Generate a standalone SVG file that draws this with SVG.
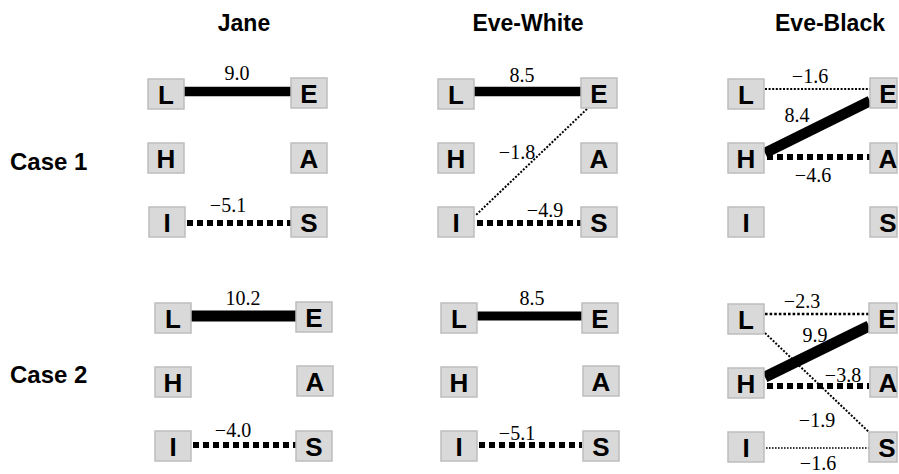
<svg xmlns="http://www.w3.org/2000/svg" width="899" height="474" viewBox="0 0 899 474">
<style>
.box{fill:#d9d9d9;stroke:#bdbdbd;stroke-width:1.5}
.lt{font-family:"Liberation Sans",Arial,sans-serif;font-weight:bold;font-size:26px;text-anchor:middle;fill:#000}
.ttl{font-family:"Liberation Sans",Arial,sans-serif;font-weight:bold;font-size:23px;text-anchor:middle;fill:#000}
.case{font-family:"Liberation Sans",Arial,sans-serif;font-weight:bold;font-size:24px;fill:#000}
.num{font-family:"Liberation Serif","Times New Roman",serif;font-size:20px;text-anchor:middle;fill:#000}
.solid{stroke:#000;fill:none}
.dash{stroke:#000;fill:none;stroke-width:6;stroke-dasharray:6 4}
.dot{stroke:#000;fill:none;stroke-width:2;stroke-dasharray:2 1.6}
.dot3{stroke:#000;fill:none;stroke-width:2.6;stroke-dasharray:2.6 2}
.dot1{stroke:#000;fill:none;stroke-width:1.6;stroke-dasharray:1.6 1.4}
</style>
<rect width="899" height="474" fill="#fff"/>
<g id="titles">
<text class="ttl" x="244" y="31">Jane</text>
<text class="ttl" x="528" y="31">Eve-White</text>
<text class="ttl" x="830" y="31">Eve-Black</text>
<text class="case" x="10" y="170">Case 1</text>
<text class="case" x="10" y="383">Case 2</text>
</g>
<g id="connectors">
<line class="solid" stroke-width="9.5" x1="184" y1="91.5" x2="291" y2="91.5"/>
<line class="dash" x1="187" y1="223" x2="291" y2="223"/>
<line class="solid" stroke-width="9.5" x1="474" y1="91.5" x2="581" y2="91.5"/>
<line class="dot" x1="587" y1="109" x2="476" y2="215"/>
<line class="dash" x1="477" y1="223" x2="581" y2="223"/>
<line class="dot" x1="765" y1="89" x2="870" y2="89"/>
<line class="solid" stroke-width="10.5" x1="765" y1="153" x2="870" y2="101"/>
<line class="dash" x1="767" y1="157" x2="870" y2="157"/>
<line class="solid" stroke-width="11" x1="191" y1="316" x2="296" y2="316"/>
<line class="dash" x1="193" y1="445" x2="296" y2="445"/>
<line class="solid" stroke-width="9" x1="477" y1="316" x2="582" y2="316"/>
<line class="dash" x1="479" y1="445" x2="582" y2="445"/>
<line class="dot3" x1="765" y1="314" x2="869" y2="314"/>
<line class="solid" stroke-width="11" x1="765" y1="377" x2="869" y2="326"/>
<line class="dash" x1="767" y1="386" x2="869" y2="386"/>
<line class="dot" x1="765" y1="333" x2="872" y2="435"/>
<line class="dot1" x1="766" y1="448" x2="869" y2="448"/>
</g>
<g id="labels">
<text class="num" x="237" y="80">9.0</text>
<text class="num" x="228" y="212">−5.1</text>
<text class="num" x="522" y="82">8.5</text>
<text class="num" x="517" y="159">−1.8</text>
<text class="num" x="545" y="217">−4.9</text>
<text class="num" x="810" y="83">−1.6</text>
<text class="num" x="797" y="122">8.4</text>
<text class="num" x="813" y="182">−4.6</text>
<text class="num" x="243" y="305">10.2</text>
<text class="num" x="233" y="437">−4.0</text>
<text class="num" x="532" y="305">8.5</text>
<text class="num" x="517" y="440">−5.1</text>
<text class="num" x="802" y="308">−2.3</text>
<text class="num" x="815" y="342">9.9</text>
<text class="num" x="843" y="382">−3.8</text>
<text class="num" x="817" y="427">−1.9</text>
<text class="num" x="818" y="470">−1.6</text>
</g>
<g id="j1-L"><rect class="box" x="148" y="79" width="36" height="30"/><text class="lt" x="166" y="103.5">L</text></g>
<g id="j1-E"><rect class="box" x="291" y="78" width="36" height="30"/><text class="lt" x="309" y="102.5">E</text></g>
<g id="j1-H"><rect class="box" x="148" y="143" width="36" height="30"/><text class="lt" x="166" y="167.5">H</text></g>
<g id="j1-A"><rect class="box" x="291" y="143" width="36" height="30"/><text class="lt" x="309" y="167.5">A</text></g>
<g id="j1-I"><rect class="box" x="149" y="207" width="36" height="30"/><text class="lt" x="167" y="231.5">I</text></g>
<g id="j1-S"><rect class="box" x="291" y="207" width="36" height="30"/><text class="lt" x="309" y="231.5">S</text></g>
<g id="w1-L"><rect class="box" x="438" y="79" width="36" height="30"/><text class="lt" x="456" y="103.5">L</text></g>
<g id="w1-E"><rect class="box" x="581" y="78" width="36" height="30"/><text class="lt" x="599" y="102.5">E</text></g>
<g id="w1-H"><rect class="box" x="438" y="143" width="36" height="30"/><text class="lt" x="456" y="167.5">H</text></g>
<g id="w1-A"><rect class="box" x="581" y="143" width="36" height="30"/><text class="lt" x="599" y="167.5">A</text></g>
<g id="w1-I"><rect class="box" x="438" y="207" width="36" height="30"/><text class="lt" x="456" y="231.5">I</text></g>
<g id="w1-S"><rect class="box" x="581" y="207" width="36" height="30"/><text class="lt" x="599" y="231.5">S</text></g>
<g id="b1-L"><rect class="box" x="728" y="79" width="36" height="30"/><text class="lt" x="746" y="103.5">L</text></g>
<g id="b1-E"><rect class="box" x="870" y="78" width="27" height="30"/><text class="lt" x="888" y="102.5">E</text></g>
<g id="b1-H"><rect class="box" x="728" y="143" width="36" height="30"/><text class="lt" x="746" y="167.5">H</text></g>
<g id="b1-A"><rect class="box" x="870" y="143" width="27" height="30"/><text class="lt" x="888" y="167.5">A</text></g>
<g id="b1-I"><rect class="box" x="728" y="207" width="36" height="30"/><text class="lt" x="746" y="231.5">I</text></g>
<g id="b1-S"><rect class="box" x="870" y="207" width="27" height="30"/><text class="lt" x="888" y="231.5">S</text></g>
<g id="j2-L"><rect class="box" x="155" y="303" width="36" height="30"/><text class="lt" x="173" y="327.5">L</text></g>
<g id="j2-E"><rect class="box" x="296" y="302" width="36" height="30"/><text class="lt" x="314" y="326.5">E</text></g>
<g id="j2-H"><rect class="box" x="155" y="367" width="36" height="30"/><text class="lt" x="173" y="391.5">H</text></g>
<g id="j2-A"><rect class="box" x="297" y="366" width="36" height="30"/><text class="lt" x="315" y="390.5">A</text></g>
<g id="j2-I"><rect class="box" x="155" y="431" width="36" height="30"/><text class="lt" x="173" y="455.5">I</text></g>
<g id="j2-S"><rect class="box" x="296" y="431" width="36" height="30"/><text class="lt" x="314" y="455.5">S</text></g>
<g id="w2-L"><rect class="box" x="441" y="303" width="36" height="30"/><text class="lt" x="459" y="327.5">L</text></g>
<g id="w2-E"><rect class="box" x="582" y="303" width="36" height="30"/><text class="lt" x="600" y="327.5">E</text></g>
<g id="w2-H"><rect class="box" x="441" y="367" width="36" height="30"/><text class="lt" x="459" y="391.5">H</text></g>
<g id="w2-A"><rect class="box" x="583" y="366" width="36" height="30"/><text class="lt" x="601" y="390.5">A</text></g>
<g id="w2-I"><rect class="box" x="441" y="431" width="36" height="30"/><text class="lt" x="459" y="455.5">I</text></g>
<g id="w2-S"><rect class="box" x="583" y="431" width="36" height="30"/><text class="lt" x="601" y="455.5">S</text></g>
<g id="b2-L"><rect class="box" x="728" y="304" width="36" height="30"/><text class="lt" x="746" y="328.5">L</text></g>
<g id="b2-E"><rect class="box" x="869" y="303" width="28" height="30"/><text class="lt" x="887" y="327.5">E</text></g>
<g id="b2-H"><rect class="box" x="728" y="368" width="36" height="30"/><text class="lt" x="746" y="392.5">H</text></g>
<g id="b2-A"><rect class="box" x="870" y="367" width="27" height="30"/><text class="lt" x="888" y="391.5">A</text></g>
<g id="b2-I"><rect class="box" x="728" y="432" width="36" height="30"/><text class="lt" x="746" y="456.5">I</text></g>
<g id="b2-S"><rect class="box" x="869" y="432" width="28" height="30"/><text class="lt" x="887" y="456.5">S</text></g>
</svg>
